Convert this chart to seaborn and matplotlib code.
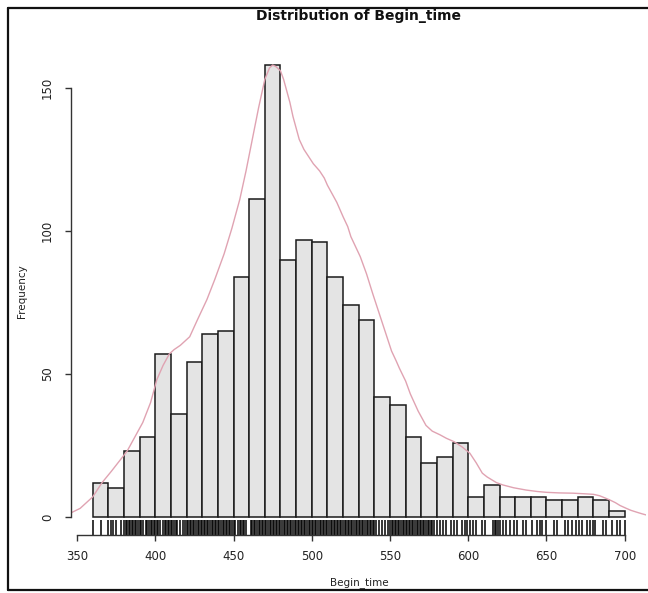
import matplotlib
matplotlib.use("Agg")
import matplotlib.pyplot as plt
from matplotlib.lines import Line2D
import numpy as np
import seaborn as sns

# ---- data ----
bin_edges = [360, 370, 380, 390, 400, 410, 420, 430, 440, 450, 460, 470, 480, 490,
             500, 510, 520, 530, 540, 550, 560, 570, 580, 590, 600, 610, 620, 630,
             640, 650, 660, 670, 680, 690, 700]
counts = [12, 10, 23, 28, 57, 36, 54, 64, 65, 84, 111, 158, 90, 97, 96, 84, 74,
          69, 42, 39, 28, 19, 21, 26, 7, 11, 7, 7, 7, 6, 6, 7, 6, 2]

# density curve (scaled to counts)
dens_x = [346.4, 352, 356, 360, 363, 366, 369, 372, 377, 382, 387, 392, 397, 401,
          405, 409, 412, 416, 419, 422, 427, 433, 438, 444, 449, 454, 458,
          462, 466, 470, 473, 475, 477, 480, 482, 484, 486, 488, 490, 492, 495,
          498, 501, 505, 508, 510, 513, 516, 518, 520, 523, 525, 528, 531,
          535, 539, 542, 545, 548, 551, 554, 556, 560, 563, 568, 573, 577, 582,
          586, 591, 596, 601, 605, 609, 612, 615, 618, 622, 629, 637, 644, 650,
          658, 667, 674, 680, 684, 688, 691, 694, 697, 701, 704, 708, 711, 713.6]
dens_y = [1.5, 3, 5, 7, 9.5, 12, 14, 16, 19.5, 23, 28, 33, 40, 48,
          53, 57, 58.5, 60, 61.5, 63, 69, 76, 83, 92, 101, 111, 121,
          132, 143, 153, 157, 158, 157.5, 156, 153, 149, 145, 140, 136, 132, 128.5,
          126, 123.5, 121, 118.5, 116, 113, 110, 107.5, 105, 101.5, 98, 94.5, 91,
          85, 78, 73, 68, 63, 58, 54.5, 52, 47.5, 43, 37, 32, 30, 28.7,
          27.5, 26.3, 24.5, 22.3, 19, 15.3, 14, 13, 12, 11.2, 10.2, 9.4, 8.9, 8.6,
          8.4, 8.3, 8.1, 7.9, 7.4, 6.5, 5.8, 5, 4, 3, 2.3, 1.6, 1.1, 0.7]

# rug positions (observed values)
rug = [360, 365, 370, 372, 373, 375, 378, 380,
       381, 382, 383, 384, 385, 386, 387, 388, 389, 390, 391, 392,
       394, 395, 396, 397, 398, 399, 400, 401, 402, 403,
       405, 406, 407, 408, 409, 410, 411, 412, 413, 414, 416,
       418, 419, 420, 421, 422, 423, 424, 425, 426, 427, 428, 429, 430,
       431, 432, 433, 434, 435, 436, 437, 438, 439, 440, 441, 442, 443,
       444, 445, 446, 447, 448, 449, 450, 451,
       453, 454, 455, 456, 457, 458,
       461, 462, 463, 464, 465, 466, 467, 468, 469, 470, 471, 472, 473,
       474, 475, 476, 477, 478, 479, 480, 481, 482, 483, 484, 485, 486,
       487, 488, 489, 490, 491, 492, 493, 494, 495, 496, 497, 498, 499,
       500, 501, 502, 503, 504, 505, 506, 507, 508, 509, 510, 511, 512,
       513, 514, 515, 516, 517, 518, 519, 520, 521, 522, 523, 524, 525,
       526, 527, 528, 529, 530, 531, 532, 533, 534, 535, 536, 537, 538,
       539, 540, 541, 543, 545, 547,
       549, 550, 551, 552, 553, 554, 555, 556, 557, 558, 559, 560, 561,
       562, 563, 564, 565, 566, 567, 568, 569, 570, 571, 572, 573, 574,
       575, 576, 577, 578, 580,
       582, 584, 586, 589, 591, 593, 596, 598, 599, 601, 603, 605, 609,
       611, 616, 617, 618, 619, 620, 622, 624, 627, 629, 631, 635, 637,
       641, 644, 646, 647, 650, 655, 657, 662, 664, 666, 669, 671, 673,
       676, 678, 680, 681, 686, 688, 692, 695, 697, 700]

x_ticks = [350, 400, 450, 500, 550, 600, 650, 700]
y_ticks = [0, 50, 100, 150]

title = "Distribution of Begin_time"
x_label = "Begin_time"
y_label = "Frequency"

# ---- drawing ----
sns.set_style("ticks")
plt.rcParams["font.family"] = ["DejaVu Sans"]

W, H = 648, 593
fig = plt.figure(figsize=(W / 100, H / 100), dpi=100)
left, right, top, bottom = 71.4, 646.0, 47.0, 535.0
ax = fig.add_axes([left / W, 1 - bottom / H, (right - left) / W, (bottom - top) / H])

centers = [(a + b) / 2 for a, b in zip(bin_edges[:-1], bin_edges[1:])]
sns.histplot(x=centers, weights=counts, bins=bin_edges, ax=ax,
             color="#E4E4E4", edgecolor="#1a1a1a", linewidth=1.1, alpha=1.0)

sns.lineplot(x=dens_x, y=dens_y, ax=ax, color="#E0A3B2", linewidth=1.0,
             sort=False, estimator=None)

sns.rugplot(x=rug, ax=ax, height=0.03, color="#000000", linewidth=1.1,
            expand_margins=False)

ax.set_xlim(346.4, 713.6)
ax.set_ylim(-6.32, 164.32)

sns.despine(ax=ax, top=True, right=True)
ax.spines["left"].set_bounds(0, 150)
ax.spines["bottom"].set_bounds(350, 700)
for s in ("left", "bottom"):
    ax.spines[s].set_color("#333333")
    ax.spines[s].set_linewidth(1.0)

ax.set_xticks(x_ticks)
ax.set_xticklabels([str(v) for v in x_ticks], fontsize=8.5, color="#222222")
ax.set_yticks(y_ticks)
ax.set_yticklabels([str(v) for v in y_ticks], fontsize=8.5, color="#222222",
                   rotation=90, va="center")
ax.tick_params(axis="both", length=4.5, width=1.0, color="#333333")
ax.tick_params(axis="x", pad=6)
ax.tick_params(axis="y", pad=8)

ax.set_xlabel("")
ax.set_ylabel("")
fig.text(359 / W, 1 - 583 / H, x_label, ha="center", va="center",
         fontsize=7.5, color="#222222")
fig.text(22 / W, 1 - 291 / H, y_label, ha="center", va="center",
         fontsize=7.5, color="#222222", rotation=90)
fig.text(359 / W, 1 - 16 / H, title, ha="center", va="center",
         fontsize=10, fontweight="bold", color="#111111")

# image frame (screenshot border)
for xs, ys in [((8, 8), (8, 590)), ((8, W), (8, 8)), ((8, W), (590, 590))]:
    fig.add_artist(Line2D([x / W for x in xs], [1 - y / H for y in ys],
                          transform=fig.transFigure, color="#111111",
                          linewidth=1.6))

fig.savefig("out.png", dpi=100)
